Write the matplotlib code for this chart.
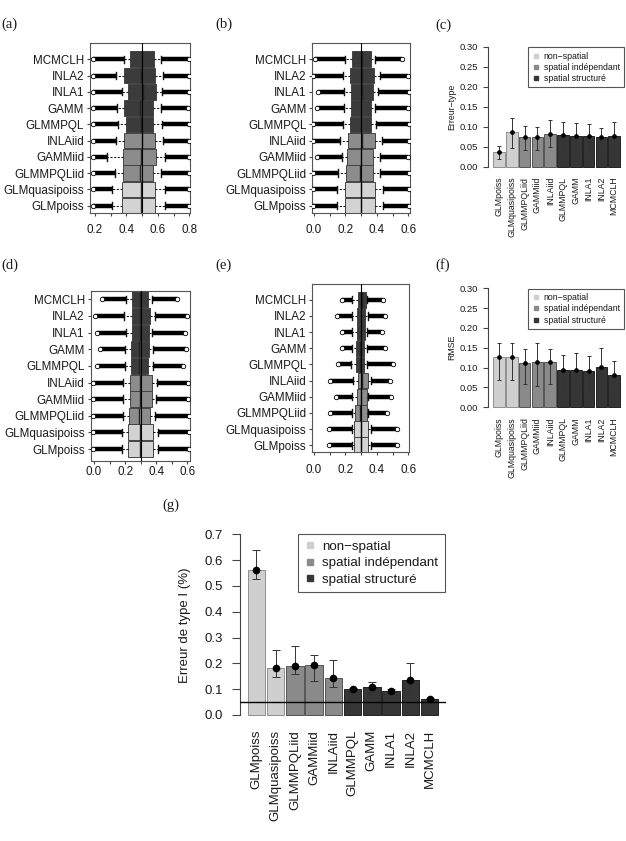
import numpy as np
import matplotlib
matplotlib.use("Agg")
import matplotlib.pyplot as plt
from matplotlib.lines import Line2D

plt.rcParams['font.family'] = ['Liberation Sans', 'DejaVu Sans']

W, H = 626, 841

methods = ['GLMpoiss', 'GLMquasipoiss', 'GLMMPQLiid', 'GAMMiid', 'INLAiid',
           'GLMMPQL', 'GAMM', 'INLA1', 'INLA2', 'MCMCLH']
groups = [0, 0, 1, 1, 1, 2, 2, 2, 2, 2]
group_names = ['non\u2212spatial', 'spatial indépendant', 'spatial structuré']

# boxplot panels: quartiles, whisker ends, outlier extremes
a_q1 = [0.370, 0.370, 0.380, 0.380, 0.384, 0.397, 0.387, 0.412, 0.387, 0.423]
a_med = [0.492, 0.492, 0.483, 0.494, 0.498, 0.494, 0.483, 0.508, 0.494, 0.500]
a_q3 = [0.584, 0.584, 0.567, 0.588, 0.580, 0.571, 0.571, 0.586, 0.582, 0.575]
a_wlo = [0.306, 0.306, 0.327, 0.274, 0.334, 0.348, 0.338, 0.370, 0.334, 0.384]
a_whi = [0.645, 0.645, 0.620, 0.645, 0.635, 0.624, 0.620, 0.628, 0.630, 0.620]
a_olo = [0.190, 0.190, 0.190, 0.190, 0.190, 0.190, 0.190, 0.190, 0.185, 0.190]
a_ohi = [0.800, 0.800, 0.800, 0.800, 0.800, 0.800, 0.790, 0.800, 0.800, 0.800]

b_q1 = [0.197, 0.197, 0.201, 0.208, 0.214, 0.229, 0.233, 0.233, 0.229, 0.240]
b_med = [0.299, 0.299, 0.293, 0.299, 0.303, 0.299, 0.299, 0.303, 0.303, 0.303]
b_q3 = [0.388, 0.388, 0.373, 0.377, 0.388, 0.360, 0.360, 0.375, 0.382, 0.360]
b_wlo = [0.148, 0.148, 0.155, 0.176, 0.165, 0.187, 0.193, 0.193, 0.187, 0.197]
b_whi = [0.441, 0.441, 0.420, 0.420, 0.430, 0.392, 0.388, 0.405, 0.420, 0.388]
b_olo = [-0.008, -0.008, -0.008, 0.017, -0.008, -0.004, 0.017, 0.028, -0.004, 0.006]
b_ohi = [0.605, 0.605, 0.605, 0.600, 0.605, 0.605, 0.600, 0.605, 0.600, 0.557]

d_q1 = [0.221, 0.221, 0.227, 0.231, 0.231, 0.238, 0.238, 0.246, 0.242, 0.246]
d_med = [0.296, 0.296, 0.291, 0.296, 0.296, 0.291, 0.291, 0.296, 0.296, 0.296]
d_q3 = [0.377, 0.377, 0.360, 0.371, 0.375, 0.349, 0.354, 0.354, 0.360, 0.345]
d_wlo = [0.178, 0.178, 0.189, 0.189, 0.189, 0.199, 0.199, 0.206, 0.193, 0.206]
d_whi = [0.414, 0.414, 0.392, 0.399, 0.403, 0.377, 0.381, 0.375, 0.392, 0.371]
d_olo = [-0.004, -0.004, -0.004, -0.004, -0.004, 0.017, 0.039, 0.017, 0.006, 0.049]
d_ohi = [0.610, 0.610, 0.610, 0.606, 0.606, 0.574, 0.591, 0.585, 0.596, 0.531]

e_q1 = [0.257, 0.257, 0.261, 0.271, 0.282, 0.265, 0.265, 0.276, 0.271, 0.278]
e_med = [0.299, 0.299, 0.295, 0.299, 0.303, 0.295, 0.293, 0.299, 0.299, 0.303]
e_q3 = [0.341, 0.341, 0.335, 0.335, 0.341, 0.320, 0.320, 0.324, 0.324, 0.329]
e_wlo = [0.240, 0.240, 0.240, 0.240, 0.250, 0.233, 0.240, 0.240, 0.240, 0.240]
e_whi = [0.363, 0.363, 0.346, 0.346, 0.360, 0.339, 0.335, 0.339, 0.346, 0.339]
e_olo = [0.095, 0.095, 0.102, 0.138, 0.102, 0.151, 0.176, 0.176, 0.144, 0.176]
e_ohi = [0.526, 0.526, 0.462, 0.490, 0.483, 0.505, 0.452, 0.430, 0.452, 0.441]

# bar panels: value, lower and upper error
c_val = [0.037, 0.086, 0.074, 0.075, 0.083, 0.080, 0.078, 0.078, 0.074, 0.078]
c_lo = [0.020, 0.048, 0.042, 0.042, 0.050, 0.042, 0.040, 0.040, 0.040, 0.038]
c_hi = [0.052, 0.121, 0.102, 0.100, 0.116, 0.113, 0.109, 0.108, 0.098, 0.112]

f_val = [0.127, 0.127, 0.111, 0.113, 0.113, 0.094, 0.095, 0.091, 0.101, 0.082]
f_lo = [0.070, 0.070, 0.058, 0.055, 0.058, 0.050, 0.048, 0.042, 0.048, 0.040]
f_hi = [0.163, 0.163, 0.146, 0.162, 0.148, 0.133, 0.136, 0.130, 0.149, 0.117]

g_val = [0.562, 0.181, 0.190, 0.194, 0.145, 0.099, 0.107, 0.094, 0.136, 0.062]
g_lo = [0.528, 0.149, 0.159, 0.132, 0.110, 0.089, 0.090, 0.082, 0.084, 0.058]
g_hi = [0.639, 0.252, 0.267, 0.232, 0.213, 0.106, 0.129, 0.100, 0.200, 0.066]

box_fill = ['#d3d3d3', '#8c8c8c', '#3b3b3b']
bar_fill = ['#cfcfcf', '#8a8a8a', '#363636']
bar_edge = ['#8f8f8f', '#555555', '#222222']
txt = '#1a1a1a'


def ax_px(fig, left, top, right, bottom):
    return fig.add_axes([left / W, 1 - bottom / H, (right - left) / W, (bottom - top) / H])


def box_panel(fig, rect, q1, med, q3, wlo, whi, olo, ohi, xlim, ylim, vline, xmin, pad):
    ax = ax_px(fig, *rect)
    pos = np.arange(1, 11)
    stats = [dict(q1=q1[i], med=med[i], q3=q3[i], whislo=wlo[i], whishi=whi[i], fliers=[])
             for i in range(10)]
    bp = ax.bxp(stats, positions=pos, widths=0.96, orientation='horizontal',
                patch_artist=True, capwidths=0.45)
    for i, b in enumerate(bp['boxes']):
        b.set_facecolor(box_fill[groups[i]])
        b.set_edgecolor('#444444')
        b.set_linewidth(0.7)
    for m in bp['medians']:
        m.set_color('#222222')
        m.set_linewidth(1.0)
    for w in bp['whiskers']:
        w.set_color('#111111')
        w.set_linewidth(0.75)
        w.set_linestyle((0, (2, 1.5)))
    for c in bp['caps']:
        c.set_color('#111111')
        c.set_linewidth(1.0)
    # dense outlier clouds
    ax.hlines(pos, olo, wlo, color='black', lw=3.2, zorder=2)
    ax.hlines(pos, whi, ohi, color='black', lw=3.2, zorder=2)
    ax.plot(olo, pos, 'o', mfc='white', mec='black', ms=3.2, mew=0.6, zorder=3)
    ax.plot(ohi, pos, 'o', mfc='white', mec='black', ms=3.2, mew=0.6, zorder=3)
    ax.axvline(vline, color='black', lw=0.8, zorder=4)
    ax.set_xlim(*xlim)
    ax.set_ylim(*ylim)
    ax.set_yticks(pos)
    ax.set_yticklabels(methods)
    ticks = np.round(np.arange(xmin, xmin + 0.65, 0.1), 1)
    ax.set_xticks(ticks)
    ax.set_xticklabels(['%.1f' % t if k % 2 == 0 else '' for k, t in enumerate(ticks)])
    ax.tick_params(axis='y', labelsize=8.4, length=2, pad=2.2, colors='#444444', labelcolor=txt)
    ax.tick_params(axis='x', labelsize=8.4, length=2, pad=pad, colors='#444444', labelcolor=txt)
    for s in ax.spines.values():
        s.set_color('#555555')
        s.set_linewidth(0.8)
    return ax


def bar_panel(fig, rect, val, lo, hi, ylim, ystep, ylabel, ylab_xy, fs, yfs, xpad,
              ms, capsize, leg_anchor, leg_fs, leg_ms, leg_sp, fmt):
    ax = ax_px(fig, *rect)
    x = 0.6 + 1.1 * np.arange(10)
    cols = [bar_fill[g] for g in groups]
    eds = [bar_edge[g] for g in groups]
    ax.bar(x, val, width=1.0, color=cols, edgecolor=eds, linewidth=0.7, zorder=2)
    val = np.array(val)
    yerr = [val - np.array(lo), np.array(hi) - val]
    ax.errorbar(x, val, yerr=yerr, fmt='o', color='black', ms=ms, ecolor='#333333',
                elinewidth=0.7, capsize=capsize, capthick=0.7, zorder=3)
    ax.set_xlim(-0.336, 11.436)
    ax.set_ylim(*ylim)
    yt = np.round(np.arange(0, ylim[1] - 0.004, ystep), 2)
    ax.set_yticks(yt)
    ax.set_yticklabels([fmt % v for v in yt])
    ax.spines['left'].set_bounds(0, yt[-1])
    for s in ['top', 'right', 'bottom']:
        ax.spines[s].set_visible(False)
    ax.spines['left'].set_color('#444444')
    ax.spines['left'].set_linewidth(0.8)
    ax.set_xticks(x)
    ax.set_xticklabels(methods, rotation=90, va='top', ha='center')
    ax.tick_params(axis='x', length=0, pad=xpad, labelsize=fs, labelcolor=txt)
    ax.tick_params(axis='y', labelsize=yfs, colors='#444444', labelcolor=txt)
    fig.text(ylab_xy[0] / W, 1 - ylab_xy[1] / H, ylabel, rotation=90, ha='center',
             va='center', fontsize=fs, color=txt)
    handles = [Line2D([], [], marker='s', linestyle='none', color=bar_fill[k],
                      markeredgecolor=bar_fill[k], markersize=leg_ms) for k in range(3)]
    leg = ax.legend(handles, group_names, loc='upper right', bbox_to_anchor=leg_anchor,
                    borderaxespad=0, fontsize=leg_fs, fancybox=False, framealpha=1,
                    edgecolor='#555555', handlelength=0.8, handletextpad=0.5,
                    labelspacing=leg_sp, borderpad=0.5)
    leg.get_frame().set_linewidth(0.8)
    for t in leg.get_texts():
        t.set_color(txt)
    return ax


fig = plt.figure(figsize=(W / 100, H / 100), dpi=100)

box_panel(fig, (90, 43.3, 190, 213.3), a_q1, a_med, a_q3, a_wlo, a_whi, a_olo, a_ohi,
          (0.168, 0.804), (0.53, 10.98), 0.5, 0.2, 6.0)
box_panel(fig, (312.3, 43.3, 410, 213.3), b_q1, b_med, b_q3, b_wlo, b_whi, b_olo, b_ohi,
          (-0.011, 0.61), (0.53, 10.98), 0.3, 0.0, 6.0)
box_panel(fig, (90.7, 290.7, 190, 460.7), d_q1, d_med, d_q3, d_wlo, d_whi, d_olo, d_ohi,
          (-0.021, 0.617), (0.3, 10.52), 0.3, 0.0, 2.0)
box_panel(fig, (312.3, 284.3, 409, 451.7), e_q1, e_med, e_q3, e_wlo, e_whi, e_olo, e_ohi,
          (-0.011, 0.604), (0.6, 10.96), 0.3, 0.0, 6.5)

bar_panel(fig, (488.2, 41.9, 625.1, 171.5), c_val, c_lo, c_hi, (-0.012, 0.312), 0.05,
          'Erreur\u2212type', (452, 106.7), 6.3, 6.8, 3.7, 2.4, 1.6, (0.992, 0.958), 6.3,
          2.6, 0.25, '%.2f')
bar_panel(fig, (488.2, 283.5, 625.1, 412.1), f_val, f_lo, f_hi, (-0.012, 0.312), 0.05,
          'RMSE', (451.7, 347.8), 6.3, 6.8, 3.7, 2.4, 1.6, (0.992, 0.958), 6.3,
          2.6, 0.25, '%.2f')
axg = bar_panel(fig, (240, 527.1, 446, 722.2), g_val, g_lo, g_hi, (-0.028, 0.728), 0.1,
                'Erreur de type I (%)', (185, 625), 9.5, 9.5, 5.6, 4.5, 3.2, (0.995, 0.965),
                9.6, 4.0, 0.3, '%.1f')
axg.axhline(0.05, color='black', lw=1.0, zorder=4)
axg.tick_params(axis='y', length=6, pad=6)

labels = [('(a)', 1, 24), ('(b)', 215, 24), ('(c)', 435, 25), ('(d)', 1, 265),
          ('(e)', 215, 265), ('(f)', 435, 265), ('(g)', 162, 505)]
for s, x0, y0 in labels:
    fig.text(x0 / W, 1 - y0 / H, s, ha='left', va='center', fontsize=10.5,
             family=['Liberation Serif', 'DejaVu Serif'], color=txt)

fig.savefig('out.png', dpi=100)
